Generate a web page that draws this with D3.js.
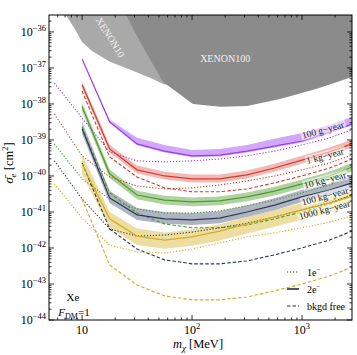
<!DOCTYPE html>
<html>
<head>
<meta charset="utf-8">
<title>Xe electron recoil reach</title>
<script src="https://d3js.org/d3.v7.min.js"></script>
<style>
  body { margin: 0; background: #fff; }
  text { font-family: "Liberation Serif", "DejaVu Serif", serif; }
</style>
</head>
<body>
<svg class="chart"></svg>
<script>
// dark matter mass grid [MeV]
var massDot = [5.6, 10, 17.8, 31.6, 56.2, 100, 178, 316, 562, 1000, 1780, 2850];
var mass = [10, 17.8, 31.6, 56.2, 100, 178, 316, 562, 1000, 1780, 2850];

// log10 of cross section [cm^2]
var line100g = [-36.75, -38.50, -39.11, -39.31, -39.44, -39.42, -39.31, -39.17, -39.03, -38.78, -38.56];
var bandHi100g = [-36.75, -38.44, -38.94, -39.14, -39.28, -39.25, -39.14, -38.97, -38.81, -38.58, -38.36];
var bandLo100g = [-36.75, -38.52, -39.15, -39.35, -39.48, -39.46, -39.35, -39.21, -39.07, -38.82, -38.60];
var dot100g = [-37.42, -38.39, -39.33, -39.58, -39.61, -39.58, -39.53, -39.44, -39.31, -39.14, -38.94, -38.72];

var line1kg = [-37.47, -39.25, -39.83, -40.00, -40.08, -40.08, -39.97, -39.78, -39.56, -39.33, -39.11];
var bandHi1kg = [-37.38, -39.13, -39.71, -39.88, -39.96, -39.96, -39.85, -39.66, -39.44, -39.21, -38.99];
var bandLo1kg = [-37.56, -39.35, -39.93, -40.10, -40.18, -40.18, -40.07, -39.88, -39.66, -39.43, -39.21];
var dot1kg = [-38.28, -39.44, -40.03, -40.28, -40.36, -40.33, -40.25, -40.14, -40.00, -39.83, -39.64, -39.42];
var free1kg = [-37.64, -39.47, -40.03, -40.33, -40.44, -40.44, -40.36, -40.19, -40.00, -39.78, -39.53];

var line10kg = [-38.08, -39.94, -40.53, -40.67, -40.72, -40.69, -40.58, -40.42, -40.22, -40.00, -39.75];
var bandHi10kg = [-37.96, -39.82, -40.41, -40.55, -40.60, -40.57, -40.46, -40.30, -40.10, -39.88, -39.63];
var bandLo10kg = [-38.20, -40.06, -40.65, -40.79, -40.84, -40.81, -40.70, -40.54, -40.34, -40.12, -39.87];
var dot10kg = [-39.11, -40.08, -40.64, -40.92, -41.03, -41.03, -40.97, -40.83, -40.67, -40.47, -40.25, -40.00];
var free10kg = [-38.64, -40.47, -41.03, -41.33, -41.44, -41.44, -41.36, -41.19, -41.00, -40.78, -40.53];

var line100kg = [-38.69, -40.61, -41.08, -41.19, -41.22, -41.17, -41.00, -40.81, -40.58, -40.39, -40.19];
var bandHi100kg = [-38.50, -40.42, -40.89, -41.00, -41.03, -40.98, -40.81, -40.62, -40.39, -40.20, -40.00];
var bandLo100kg = [-38.83, -40.75, -41.22, -41.33, -41.36, -41.31, -41.14, -40.95, -40.72, -40.53, -40.33];
var dot100kg = [-39.58, -40.64, -41.47, -41.67, -41.64, -41.56, -41.44, -41.31, -41.14, -40.94, -40.75, -40.53];
var free100kg = [-39.64, -41.47, -42.03, -42.33, -42.44, -42.44, -42.36, -42.19, -42.00, -41.78, -41.53];

var line1000kg = [-39.67, -41.19, -41.67, -41.78, -41.69, -41.53, -41.33, -41.14, -40.94, -40.75, -40.56];
var bandHi1000kg = [-39.40, -41.00, -41.46, -41.57, -41.49, -41.34, -41.14, -40.95, -40.75, -40.56, -40.37];
var bandLo1000kg = [-39.95, -41.44, -41.92, -42.02, -41.94, -41.79, -41.60, -41.41, -41.21, -41.02, -40.83];
var dot1000kg = [-40.22, -41.17, -41.92, -42.11, -42.14, -42.03, -41.86, -41.69, -41.58, -41.44, -41.28, -41.11];
var free1000kg = [-40.64, -42.47, -43.03, -43.33, -43.44, -43.44, -43.36, -43.19, -43.00, -42.78, -42.53];

// excluded regions
var xenon10Mass = [5.0, 7.0, 8.6, 10, 12.3, 14.6, 17.9, 29, 44, 54, 120, 120];
var xenon10Sig = [-35.3, -35.5, -35.92, -36.28, -36.53, -36.67, -36.83, -37.08, -37.31, -37.44, -37.7, -35.3];
var xenon100Mass = [23.1, 33.7, 54.5, 102, 180, 316, 631, 1365, 2850, 2850];
var xenon100Sig = [-35.3, -36.28, -37.39, -38.0, -38.08, -38.06, -37.86, -37.58, -37.25, -35.3];

var exposures = ["100 g\u2212year", "1 kg\u2212year", "10 kg\u2212year", "100 kg\u2212year", "1000 kg\u2212year"];
var labelMass = [1550, 1620, 1620, 1620, 1600];
var labelSig = [-38.72, -39.44, -40.11, -40.56, -40.94];

var xTicks = [10, 100, 1000];
var yTicks = [-44, -43, -42, -41, -40, -39, -38, -37, -36];

var svgWidth = 357, svgHeight = 355;
var margin = {top: 15, right: 5, bottom: 35, left: 49};
var width = svgWidth - margin.left - margin.right;
var height = svgHeight - margin.top - margin.bottom;

var svg = d3.select(".chart").attr("width", svgWidth).attr("height", svgHeight);
var chart = svg.append("g").attr("transform", "translate(" + margin.left + "," + margin.top + ")");

var x = d3.scaleLog().domain([5, 2850]).range([0, width]);
var y = d3.scaleLog().domain([1e-44, Math.pow(10, -35.53)]).range([height, 0]);

chart.append("clipPath").attr("id", "clip")
  .append("rect").attr("width", width).attr("height", height);
var plot = chart.append("g").attr("clip-path", "url(#clip)");

var pts = (ms, ss) => ms.map((m, i) => [m, ss[i]]);
var line = d3.line().x(d => x(d[0])).y(d => y(Math.pow(10, d[1])));
var area = d3.area().x(d => x(d[0])).y0(d => y(Math.pow(10, d[1]))).y1(d => y(Math.pow(10, d[2])));

plot.append("path").attr("d", line(pts(xenon10Mass, xenon10Sig)) + "Z").attr("fill", "#a9a9a9");
plot.append("path").attr("d", line(pts(xenon100Mass, xenon100Sig)) + "Z").attr("fill", "#8b8b8b");

var series = [
  {c: "#9b3cf2", a: 0.45, line: line100g, hi: bandHi100g, lo: bandLo100g, dot: dot100g, free: null},
  {c: "#d43a2e", a: 0.35, line: line1kg, hi: bandHi1kg, lo: bandLo1kg, dot: dot1kg, free: free1kg},
  {c: "#4e9c2c", a: 0.45, line: line10kg, hi: bandHi10kg, lo: bandLo10kg, dot: dot10kg, free: free10kg},
  {c: "#2c3a56", a: 0.5, line: line100kg, hi: bandHi100kg, lo: bandLo100kg, dot: dot100kg, free: free100kg},
  {c: "#d5ad1e", a: 0.42, line: line1000kg, hi: bandHi1000kg, lo: bandLo1000kg, dot: dot1000kg, free: free1000kg}
];
var bandColor = ["#9b3cf2", "#d43a2e", "#4e9c2c", "#5d6a84", "#d5ad1e"];

series.forEach(function (s, k) {
  plot.append("path")
    .attr("d", area(mass.map((m, i) => [m, s.lo[i], s.hi[i]])))
    .attr("fill", bandColor[k]).attr("fill-opacity", s.a);
});
series.forEach(function (s) {
  plot.append("path").attr("d", line(pts(massDot, s.dot)))
    .attr("fill", "none").attr("stroke", s.c).attr("stroke-width", 1.1)
    .attr("stroke-dasharray", "1.2,1.8");
  if (s.free) {
    plot.append("path").attr("d", line(pts(mass, s.free)))
      .attr("fill", "none").attr("stroke", s.c).attr("stroke-width", 1.1)
      .attr("stroke-dasharray", "3.5,2");
  }
  plot.append("path").attr("d", line(pts(mass, s.line)))
    .attr("fill", "none").attr("stroke", s.c).attr("stroke-width", 1.2);
});

// exposure labels
exposures.forEach(function (t, i) {
  var g = plot.append("g")
    .attr("transform", "translate(" + x(labelMass[i]) + "," + y(Math.pow(10, labelSig[i])) + ") rotate(-15)");
  var r = g.append("rect");
  var txt = g.append("text").attr("text-anchor", "middle").attr("dy", "0.35em")
    .attr("font-size", 9.5).attr("fill", "#222").text(t);
  var b = txt.node().getBBox();
  r.attr("x", b.x - 1).attr("y", b.y).attr("width", b.width + 2).attr("height", b.height)
    .attr("fill", "#fff").attr("fill-opacity", 0.55);
});

// region labels
plot.append("text").attr("x", x(200)).attr("y", y(Math.pow(10, -36.83)))
  .attr("text-anchor", "middle").attr("font-size", 10).attr("fill", "#f2f2f2").text("XENON100");
plot.append("text")
  .attr("transform", "translate(" + x(17) + "," + y(Math.pow(10, -36.2)) + ") rotate(58)")
  .attr("text-anchor", "middle").attr("font-size", 10).attr("fill", "#f2f2f2").text("XENON10");

// frame and ticks
chart.append("rect").attr("width", width).attr("height", height)
  .attr("fill", "none").attr("stroke", "#000").attr("stroke-width", 1);

var xMinor = [];
[1, 10, 100, 1000].forEach(d => { for (var k = 2; k <= 9; k++) { var v = k * d; if (v > 5 && v < 2850 && v !== 10 && v !== 100 && v !== 1000) xMinor.push(v); } });
var yMinor = [];
yTicks.forEach(e => { for (var k = 2; k <= 9; k++) { var v = k * Math.pow(10, e); if (v < Math.pow(10, -35.53)) yMinor.push(v); } });

var ticks = chart.append("g").attr("stroke", "#000").attr("stroke-width", 0.8);
xTicks.forEach(v => {
  ticks.append("line").attr("x1", x(v)).attr("x2", x(v)).attr("y1", height).attr("y2", height - 5);
  ticks.append("line").attr("x1", x(v)).attr("x2", x(v)).attr("y1", 0).attr("y2", 5);
});
xMinor.forEach(v => {
  ticks.append("line").attr("x1", x(v)).attr("x2", x(v)).attr("y1", height).attr("y2", height - 2.5);
  ticks.append("line").attr("x1", x(v)).attr("x2", x(v)).attr("y1", 0).attr("y2", 2.5);
});
yTicks.forEach(e => {
  var yy = y(Math.pow(10, e));
  ticks.append("line").attr("x1", 0).attr("x2", 5).attr("y1", yy).attr("y2", yy);
  ticks.append("line").attr("x1", width).attr("x2", width - 5).attr("y1", yy).attr("y2", yy);
});
yMinor.forEach(v => {
  var yy = y(v);
  ticks.append("line").attr("x1", 0).attr("x2", 2.5).attr("y1", yy).attr("y2", yy);
  ticks.append("line").attr("x1", width).attr("x2", width - 2.5).attr("y1", yy).attr("y2", yy);
});

// tick labels
yTicks.forEach(e => {
  var t = chart.append("text").attr("x", -3).attr("y", y(Math.pow(10, e)) + 4)
    .attr("text-anchor", "end").attr("font-size", 12);
  t.append("tspan").text("10");
  t.append("tspan").attr("dy", -5).attr("font-size", 8.5).text("\u2212" + (-e));
});
xTicks.forEach((v, i) => {
  var t = chart.append("text").attr("x", x(v)).attr("y", height + 14)
    .attr("text-anchor", "middle").attr("font-size", 12);
  t.append("tspan").text("10");
  if (i > 0) t.append("tspan").attr("dy", -5).attr("font-size", 8.5).text(String(i + 1));
});

// axis titles
var xl = svg.append("text").attr("x", 198).attr("y", 348).attr("text-anchor", "middle").attr("font-size", 12.5);
xl.append("tspan").attr("font-style", "italic").text("m");
xl.append("tspan").attr("dy", 3).attr("font-size", 9).attr("font-style", "italic").text("\u03c7");
xl.append("tspan").attr("dy", -3).text(" [MeV]");

var yl = svg.append("text").attr("transform", "translate(13,163) rotate(-90)")
  .attr("text-anchor", "middle").attr("font-size", 12.5);
yl.append("tspan").attr("font-style", "italic").text("\u03c3\u0304");
yl.append("tspan").attr("dy", 3).attr("font-size", 9).attr("font-style", "italic").text("e");
yl.append("tspan").attr("dy", -3).text(" [cm");
yl.append("tspan").attr("dy", -5).attr("font-size", 8.5).text("2");
yl.append("tspan").attr("dy", 5).text("]");

// material note
chart.append("text").attr("x", 24).attr("y", 286).attr("text-anchor", "middle").attr("font-size", 11).text("Xe");
var fd = chart.append("text").attr("x", 25).attr("y", 301).attr("text-anchor", "middle").attr("font-size", 11);
fd.append("tspan").attr("font-style", "italic").text("F");
fd.append("tspan").attr("dy", 2.5).attr("font-size", 8).text("DM");
fd.append("tspan").attr("dy", -2.5).text("=1");

// legend
var legendStyle = [
  {label: "1e", dash: "1.2,1.8", w: 1.1, c: "#333"},
  {label: "2e", dash: null, w: 2, c: "#555"},
  {label: "bkgd free", dash: "3.5,2", w: 1.1, c: "#333"}
];
legendStyle.forEach(function (l, i) {
  var yy = 257 + i * 17;
  chart.append("line").attr("x1", 238).attr("x2", 250).attr("y1", yy).attr("y2", yy)
    .attr("stroke", l.c).attr("stroke-width", l.w).attr("stroke-dasharray", l.dash);
  var t = chart.append("text").attr("x", 258).attr("y", yy + 3.5).attr("font-size", 10);
  t.append("tspan").text(l.label);
  if (i < 2) t.append("tspan").attr("dy", -4).attr("font-size", 7).text("\u2212");
});
</script>
</body>
</html>
